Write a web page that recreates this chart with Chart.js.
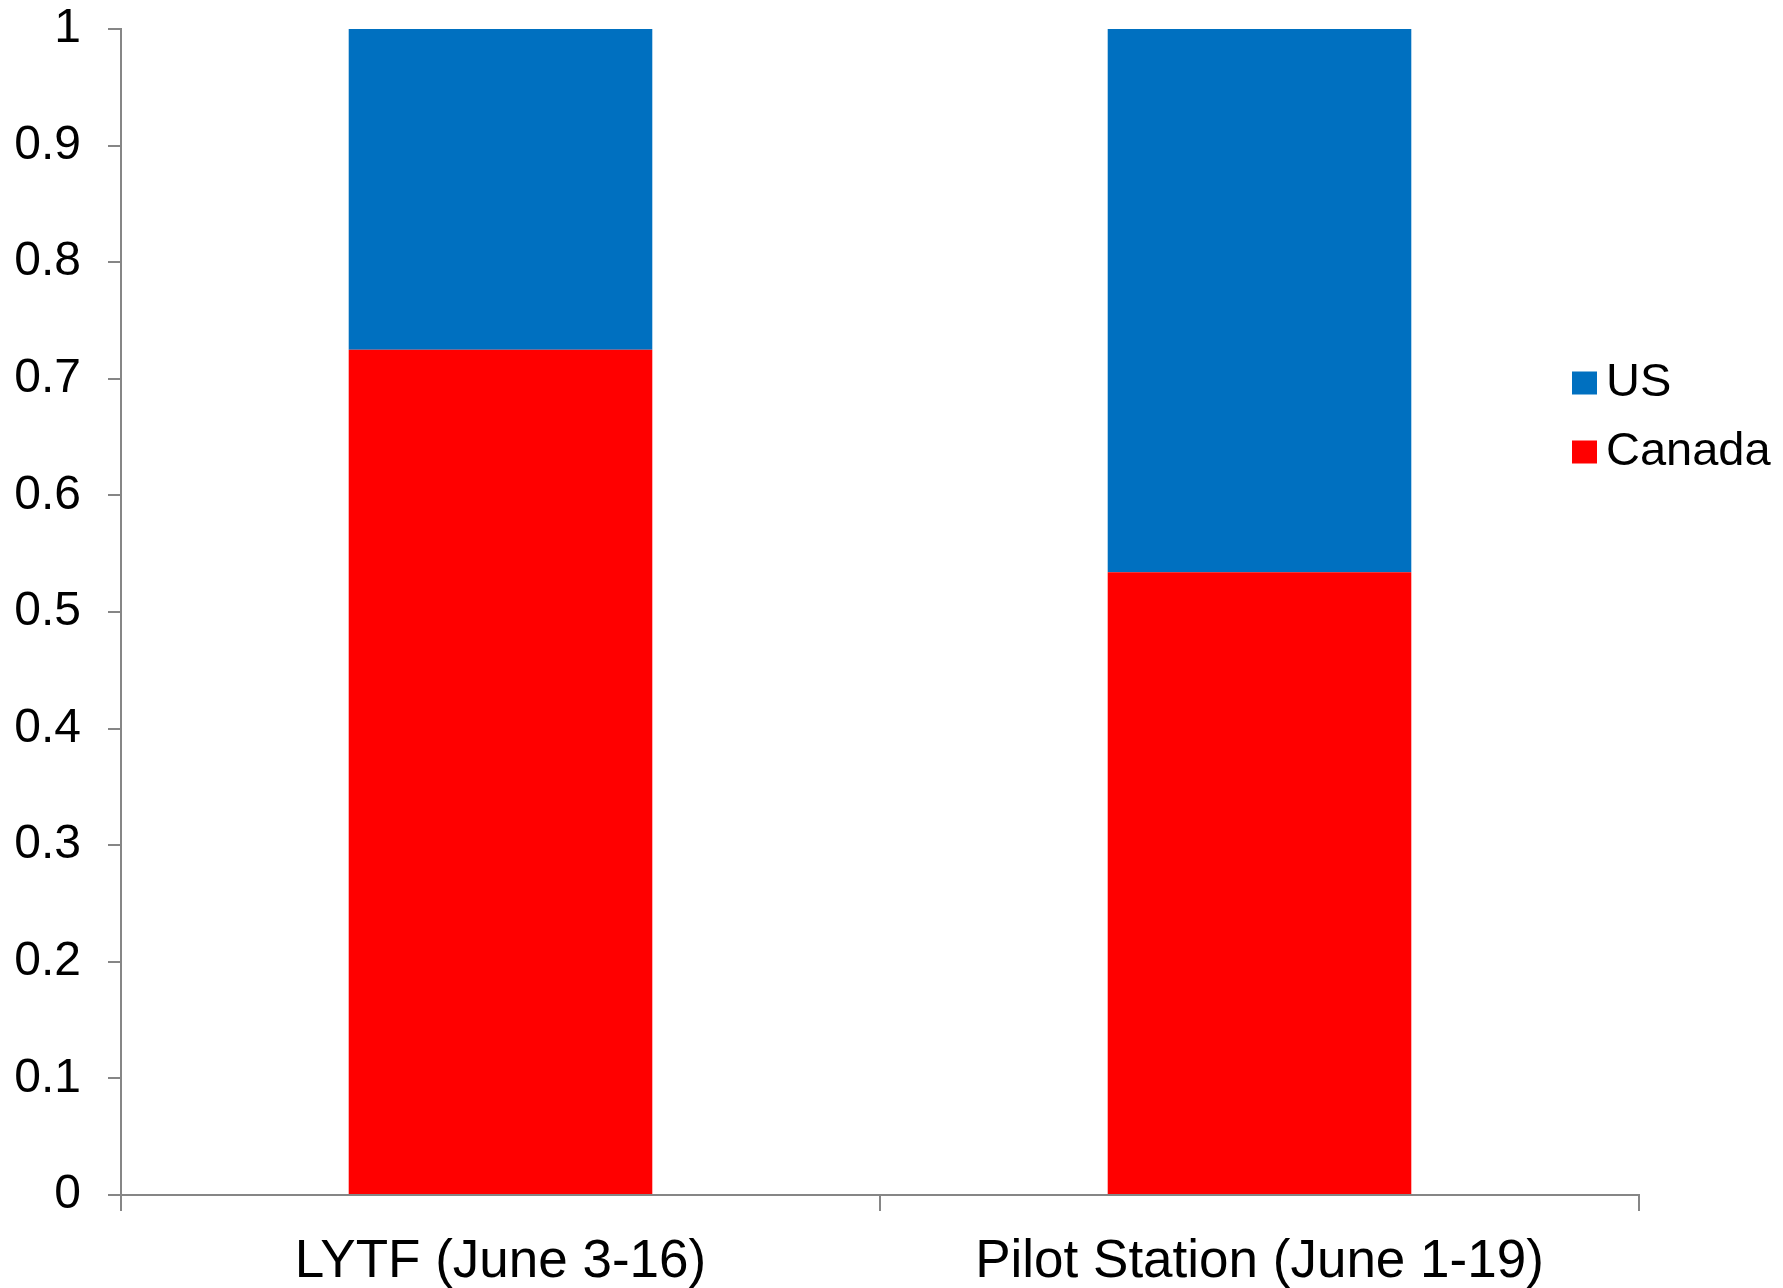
<!DOCTYPE html>
<html>
<head>
<meta charset="utf-8">
<script src="https://cdn.jsdelivr.net/npm/chart.js@4"></script>
<style>
  html, body { margin: 0; padding: 0; background: #fff; }
  #wrap { width: 1783px; height: 1288px; position: relative; }
</style>
</head>
<body>
<div id="wrap"><canvas id="chart"></canvas></div>
<script>
// Data
const categories = ['LYTF (June 3-16)', 'Pilot Station (June 1-19)'];
const canadaValues = [0.725, 0.534];
const usValues = [0.275, 0.466];
const yTicks = [0, 0.1, 0.2, 0.3, 0.4, 0.5, 0.6, 0.7, 0.8, 0.9, 1];

const FONT = '"Liberation Sans", Arial, sans-serif';

// Legend drawn on the right, US on top then Canada
const sideLegend = {
    id: 'sideLegend',
    afterDraw(chart) {
        const ctx = chart.ctx;
        const items = chart.data.datasets.slice().reverse();
        const x = chart.chartArea.right - 67;
        let y = 383;
        ctx.save();
        ctx.font = '47px ' + FONT;
        ctx.textBaseline = 'middle';
        ctx.textAlign = 'left';
        items.forEach(ds => {
            ctx.fillStyle = ds.backgroundColor;
            ctx.fillRect(x, y - 11.5, 25, 23);
            ctx.fillStyle = '#000';
            ctx.fillText(ds.label, x + 34, y);
            y += 69;
        });
        ctx.restore();
    }
};

const ctx = document.getElementById('chart').getContext('2d');

new Chart(ctx, {
    type: 'bar',
    data: {
        labels: categories,
        datasets: [
            {
                label: 'Canada',
                data: canadaValues,
                backgroundColor: '#FF0000',
                barPercentage: 0.4,
                categoryPercentage: 1.0
            },
            {
                label: 'US',
                data: usValues,
                backgroundColor: '#0070C0',
                barPercentage: 0.4,
                categoryPercentage: 1.0
            }
        ]
    },
    options: {
        responsive: true,
        maintainAspectRatio: false,
        animation: false,
        layout: {
            padding: { top: 29, right: 144, left: 0, bottom: 0 }
        },
        plugins: {
            legend: { display: false },
            tooltip: { enabled: false }
        },
        scales: {
            x: {
                stacked: true,
                offset: true,
                grid: {
                    offset: true,
                    drawOnChartArea: false,
                    drawTicks: true,
                    tickLength: 16,
                    color: '#868686',
                    lineWidth: 2
                },
                border: { color: '#868686', width: 2 },
                ticks: {
                    color: '#000',
                    padding: 20,
                    maxRotation: 0,
                    font: { family: FONT, size: 53 }
                },
                afterFit(scale) {
                    scale.height = 93;
                    scale.paddingLeft = 0;
                    scale.paddingRight = 0;
                }
            },
            y: {
                stacked: true,
                min: 0,
                max: 1,
                afterBuildTicks(scale) {
                    scale.ticks = yTicks.map(v => ({ value: v }));
                },
                grid: {
                    drawOnChartArea: false,
                    drawTicks: true,
                    tickLength: 13,
                    color: '#868686',
                    lineWidth: 2
                },
                border: { color: '#868686', width: 2 },
                ticks: {
                    color: '#000',
                    padding: 27,
                    font: { family: FONT, size: 48 },
                    callback: v => String(v)
                },
                afterFit(scale) {
                    scale.width = 121;
                    scale.paddingTop = 0;
                    scale.paddingBottom = 0;
                }
            }
        }
    },
    plugins: [sideLegend]
});
</script>
</body>
</html>
